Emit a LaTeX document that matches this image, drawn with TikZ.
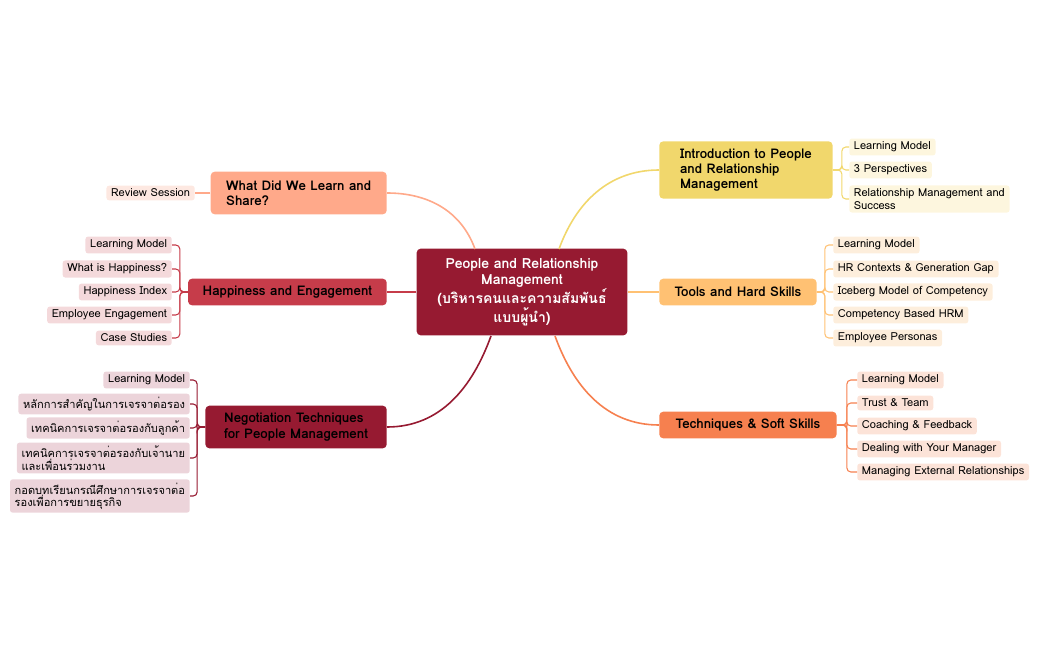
\documentclass[tikz,border=0pt]{standalone}
\usepackage{fontspec}
\IfFontExistsTF{Loma-Bold.otf}{\setmainfont{Loma.otf}[BoldFont=Loma-Bold.otf]}{\setmainfont{Loma.otf}[AutoFakeBold=1.6]}
\usetikzlibrary{positioning}
\definecolor{rootred}{HTML}{961A31}
\definecolor{introY}{HTML}{F1D76C}
\definecolor{introL}{HTML}{FDF6DE}
\definecolor{toolO}{HTML}{FFC173}
\definecolor{toolL}{HTML}{FDEEDC}
\definecolor{techO}{HTML}{F6804F}
\definecolor{techL}{HTML}{FCE3D8}
\definecolor{negoL}{HTML}{ECD4DA}
\definecolor{happR}{HTML}{C63C4A}
\definecolor{happL}{HTML}{F4D9DB}
\definecolor{whatS}{HTML}{FFA98A}
\definecolor{whatL}{HTML}{FDE8E1}
\tikzset{
  root/.style={fill=rootred, text=white, rounded corners=3pt, font=\bfseries\fontsize{10.5}{12}\selectfont, align=center, minimum width=158pt, minimum height=65pt},
  branch/.style={rounded corners=3pt, font=\bfseries\fontsize{10}{11.5}\selectfont, align=left, inner xsep=7pt},
  leaf/.style={rounded corners=2pt, font=\fontsize{8.3}{9.3}\selectfont, align=left, inner xsep=3.5pt, inner ysep=2.5pt},
  curve/.style={line width=1.2pt},
  link/.style={line width=0.8pt, rounded corners=3pt},
}
\begin{document}
\begin{tikzpicture}[x=0.75pt,y=-0.75pt]
  \useasboundingbox (0,0) rectangle (1050,650);
  % centre
  \node[root] (root) at (522,292) {People and Relationship\\Management\\(บริหารคนและความสัมพันธ์\\แบบผู้นำ)};

  % branches
  \node[branch, fill=introY, minimum width=130pt, minimum height=43pt, anchor=west] (intro) at (659,170) {Introduction to People\\and Relationship\\Management};
  \node[branch, fill=toolO, minimum width=118pt, minimum height=20pt, anchor=west] (tool) at (659,292) {Tools and Hard Skills};
  \node[branch, fill=techO, minimum width=133pt, minimum height=20pt, anchor=west] (tech) at (659,425) {Techniques \& Soft Skills};
  \node[branch, fill=rootred, minimum width=136pt, minimum height=32pt, anchor=east] (nego) at (387,427) {Negotiation Techniques\\for People Management};
  \node[branch, fill=happR, minimum width=149pt, minimum height=20pt, anchor=east] (happ) at (387,292) {Happiness and Engagement};
  \node[branch, fill=whatS, minimum width=132pt, minimum height=32pt, anchor=east] (what) at (387,193) {What Did We Learn and\\Share?};

  % curves from centre
  \draw[curve, introY] (559,249) to[out=70,in=180] (intro.west);
  \draw[curve, toolO] (root.east) -- (tool.west);
  \draw[curve, techO] (555,336) to[out=-70,in=180] (tech.west);
  \draw[curve, rootred] (491,336) to[out=-110,in=0] (nego.east);
  \draw[curve, happR] (root.west) -- (happ.east);
  \draw[curve, whatS] (475,249) to[out=110,in=0] (what.east);

  % leaves: introduction
  \foreach \n/\y/\t in {1/147/Learning Model, 2/170/3 Perspectives, 3/199/Relationship Management and\\Success}
    \node[leaf, fill=introL, anchor=west] (i\n) at (849,\y) {\t};
  \foreach \n in {1,2,3}
    \draw[link, introY] (intro.east) -- ++(9,0) |- (i\n.west);

  % leaves: tools
  \foreach \n/\y/\t in {1/245/Learning Model, 2/269/HR Contexts \& Generation Gap, 3/292/Iceberg Model of Competency, 4/315/Competency Based HRM, 5/338/Employee Personas}
    \node[leaf, fill=toolL, anchor=west] (t\n) at (833,\y) {\t};
  \foreach \n in {1,...,5}
    \draw[link, toolO] (tool.east) -- ++(8,0) |- (t\n.west);

  % leaves: techniques
  \foreach \n/\y/\t in {1/380/Learning Model, 2/403/Trust \& Team, 3/426/Coaching \& Feedback, 4/449/Dealing with Your Manager, 5/472/Managing External Relationships}
    \node[leaf, fill=techL, anchor=west] (s\n) at (857,\y) {\t};
  \foreach \n in {1,...,5}
    \draw[link, techO] (tech.east) -- ++(10,0) |- (s\n.west);

  % leaves: negotiation
  \foreach \n/\y/\t in {1/380/Learning Model, 2/404/หลักการสำคัญในการเจรจาต่อรอง, 3/428/เทคนิคการเจรจาต่อรองกับลูกค้า, 4/458/เทคนิคการเจรจาต่อรองกับเจ้านาย\\และเพื่อนร่วมงาน, 5/496/กอดบทเรียนกรณีศึกษาการเจรจาต่อ\\รองเพื่อการขยายธุรกิจ}
    \node[leaf, fill=negoL, anchor=east] (n\n) at (190,\y) {\t};
  \foreach \n in {1,...,5}
    \draw[link, rootred] (nego.west) -- ++(-8,0) |- (n\n.east);

  % leaves: happiness
  \foreach \n/\y/\t in {1/245/Learning Model, 2/269/What is Happiness?, 3/292/Happiness Index, 4/315/Employee Engagement, 5/338/Case Studies}
    \node[leaf, fill=happL, anchor=east] (h\n) at (172,\y) {\t};
  \foreach \n in {1,...,5}
    \draw[link, happR] (happ.west) -- ++(-8,0) |- (h\n.east);

  % leaf: what
  \node[leaf, fill=whatL, anchor=east] (w1) at (195,193) {Review Session};
  \draw[link, whatS] (what.west) -- (w1.east);
\end{tikzpicture}
\end{document}
